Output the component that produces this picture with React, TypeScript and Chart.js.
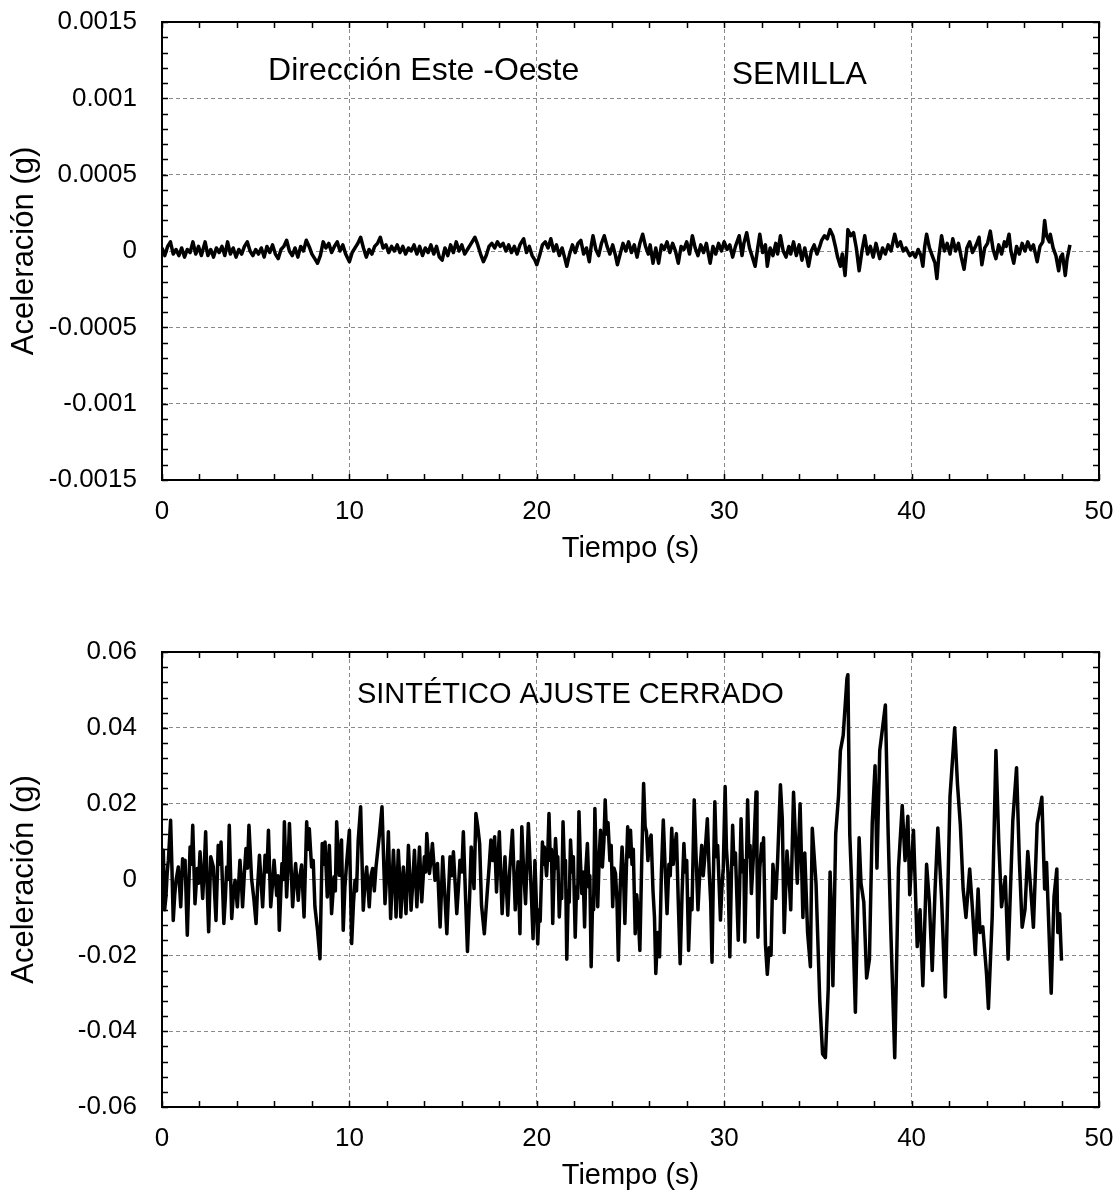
import React, { useEffect, useRef } from "react";
import { Chart, registerables } from "chart.js";
Chart.register(...registerables);

const FONT = '"Liberation Sans", Arial, Helvetica, sans-serif';

// ---- Data ----
// Top panel (SEMILLA): [time (s), acceleration in units of 1e-5 g]
const semilla_1e5g: [number, number][] = [
  [0.0, 2], [0.15, -3], [0.3, 3], [0.45, 6], [0.6, -2], [0.75, 1], [0.9, -3], [1.05, 2], [1.2, -4], [1.35, 1],
  [1.5, -1], [1.65, 6], [1.8, -2], [1.95, 3], [2.1, -3], [2.3, 6], [2.45, -3], [2.6, 1], [2.75, -4], [2.9, 2],
  [3.05, -1], [3.2, 3], [3.35, -3], [3.5, 6], [3.65, -2], [3.8, 2], [3.95, -4], [4.1, 1], [4.25, -2], [4.4, 3],
  [4.55, 6], [4.7, 0], [4.85, -3], [5.0, 1], [5.15, -2], [5.3, 2], [5.45, -4], [5.6, 3], [5.75, -1], [5.9, 4],
  [6.05, -2], [6.2, -5], [6.35, 1], [6.5, 3], [6.65, 7], [6.8, 0], [6.95, -3], [7.1, 2], [7.25, -4], [7.4, 3],
  [7.55, 0], [7.7, 7], [7.85, 3], [8.0, -2], [8.15, -5], [8.3, -8], [8.45, -3], [8.6, 6], [8.75, 2], [8.9, 5],
  [9.05, -1], [9.2, 3], [9.35, 6], [9.5, 0], [9.65, 4], [9.8, -2], [10.0, -7], [10.15, -1], [10.3, 2], [10.45, 5],
  [10.6, 9], [10.75, 2], [10.9, -4], [11.05, 1], [11.2, -2], [11.35, 3], [11.5, 5], [11.65, 9], [11.8, 2], [11.95, 4],
  [12.1, -1], [12.25, 3], [12.4, 0], [12.55, 4], [12.7, -1], [12.85, 3], [13.0, -2], [13.15, 2], [13.3, 0], [13.45, 4],
  [13.6, -2], [13.75, 3], [13.9, -3], [14.05, 2], [14.2, -1], [14.35, 4], [14.5, -2], [14.65, 3], [14.8, -4], [14.95, -6],
  [15.1, 2], [15.25, -3], [15.4, 4], [15.55, -1], [15.7, 6], [15.85, 0], [16.0, 4], [16.15, -2], [16.3, 1], [16.5, 5],
  [16.7, 9], [16.85, 4], [17.0, -2], [17.15, -7], [17.3, -3], [17.45, 3], [17.6, 5], [17.75, 2], [17.9, 6], [18.05, 3],
  [18.2, 5], [18.35, 0], [18.5, 4], [18.65, -1], [18.8, 3], [18.95, -2], [19.1, 4], [19.3, 8], [19.45, -1], [19.6, 3],
  [19.75, -3], [19.9, -6], [20.0, -9], [20.15, -3], [20.3, 4], [20.45, 6], [20.6, 2], [20.75, 8], [20.9, 0], [21.05, 4],
  [21.2, -3], [21.35, 2], [21.5, -5], [21.6, -10], [21.75, -2], [21.9, 4], [22.05, -1], [22.2, 5], [22.35, 7], [22.5, -2],
  [22.65, 2], [22.8, -7], [22.9, 3], [23.0, 10], [23.15, 1], [23.3, -3], [23.45, 5], [23.6, 10], [23.75, 3], [23.9, -2],
  [24.05, 4], [24.2, -3], [24.3, -9], [24.45, -2], [24.6, 5], [24.75, 0], [24.9, 6], [25.05, -1], [25.2, 4], [25.35, -4],
  [25.5, 5], [25.65, 11], [25.8, 3], [25.95, -2], [26.05, 4], [26.2, -8], [26.35, 2], [26.5, -8], [26.65, 4], [26.8, 1],
  [26.95, 6], [27.1, -1], [27.25, 5], [27.4, 0], [27.55, -8], [27.7, 3], [27.85, 1], [28.0, 6], [28.15, -2], [28.3, 10],
  [28.45, 2], [28.6, -3], [28.75, 4], [28.9, -1], [29.05, 5], [29.25, -8], [29.4, 3], [29.55, -2], [29.7, 5], [29.85, 0],
  [30.0, 6], [30.15, 1], [30.3, 4], [30.45, -4], [30.6, 3], [30.8, 10], [30.95, -3], [31.05, 5], [31.2, 12], [31.35, 2],
  [31.5, -4], [31.65, -10], [31.8, 3], [31.9, 11], [32.05, -1], [32.2, 4], [32.3, -10], [32.45, 2], [32.6, -3], [32.75, 5],
  [32.85, -2], [33.0, 10], [33.15, 0], [33.3, -4], [33.45, 3], [33.55, -2], [33.7, 6], [33.85, -3], [34.0, 4], [34.15, -6],
  [34.3, 2], [34.5, -10], [34.65, 0], [34.8, 4], [34.95, -2], [35.1, 3], [35.2, 7], [35.35, 10], [35.5, 8], [35.65, 14],
  [35.8, 10], [35.95, 2], [36.05, -4], [36.2, -10], [36.3, -2], [36.45, -16], [36.55, 2], [36.6, 14], [36.75, 10], [36.9, 12],
  [37.05, 2], [37.2, -13], [37.35, 0], [37.5, 10], [37.65, -2], [37.8, 3], [37.95, -4], [38.1, 5], [38.3, -5], [38.45, 2],
  [38.6, -2], [38.75, 4], [38.9, 0], [39.1, 11], [39.25, 3], [39.4, 6], [39.55, 0], [39.7, 2], [39.9, -3], [40.05, -1],
  [40.2, -4], [40.35, 1], [40.5, -3], [40.6, -10], [40.7, 3], [40.8, 11], [40.95, 2], [41.1, -3], [41.25, -8], [41.35, -18],
  [41.45, -4], [41.6, 10], [41.75, 0], [41.9, 5], [42.05, -2], [42.2, 8], [42.35, 0], [42.5, 5], [42.65, -4], [42.8, -12],
  [42.95, 2], [43.1, 6], [43.25, -1], [43.45, 4], [43.6, 9], [43.75, -9], [43.9, 2], [44.05, 5], [44.2, 13], [44.35, 1],
  [44.5, -5], [44.65, 4], [44.8, -2], [44.95, 6], [45.05, 3], [45.2, 11], [45.3, 0], [45.45, -8], [45.6, 3], [45.75, -2],
  [45.9, 5], [46.05, 0], [46.2, 6], [46.35, 1], [46.5, 4], [46.7, -7], [46.85, 3], [47.0, 6], [47.1, 20], [47.2, 10],
  [47.35, 6], [47.4, 11], [47.55, 2], [47.7, -3], [47.85, -13], [47.95, -4], [48.05, -2], [48.2, -16], [48.3, -5], [48.45, 4],
];

// Bottom panel (SINTÉTICO): [time (s), acceleration in units of 0.001 g]
const sintetico_mg: [number, number][] = [
  [0.0, 0], [0.07, 7.7], [0.14, -8], [0.21, -4.6], [0.28, 2], [0.34, 5.1], [0.46, 15.6], [0.53, 3], [0.6, -10.8], [0.68, -4],
  [0.75, -0.2], [0.87, 3.3], [0.94, -2], [1.0, -7.2], [1.1, 5.5], [1.17, 1], [1.23, 5.1], [1.35, -14.7], [1.42, -3], [1.5, 8.6],
  [1.57, 4], [1.64, 14.3], [1.76, -6.4], [1.88, 2.9], [1.95, -1], [2.03, 7.3], [2.17, -5], [2.25, 3], [2.33, 12.6], [2.41, -2],
  [2.49, -13.8], [2.6, 6], [2.74, 3.3], [2.81, -4], [2.88, -10.8], [3.0, 9], [3.08, 4], [3.15, 9.9], [3.3, -11.6], [3.38, -5],
  [3.45, 3.3], [3.52, 0], [3.59, 14.3], [3.72, -10.3], [3.82, -3], [3.9, -0.2], [4.02, -7.2], [4.16, 5.1], [4.23, 0], [4.3, -7.2],
  [4.4, 2], [4.48, 8.2], [4.56, 3], [4.64, 14.3], [4.78, 0.2], [4.9, -5], [5.02, -11.6], [5.1, -2], [5.2, 6.4], [5.37, -7.2],
  [5.5, 6.4], [5.6, 2], [5.68, 13], [5.8, -7.2], [5.9, -1], [5.98, 5.1], [6.12, -4.2], [6.19, 1], [6.26, -13.4], [6.4, 4.2],
  [6.47, 0], [6.53, 15.2], [6.65, -4.6], [6.72, 3], [6.8, 14.8], [6.97, -7.2], [7.05, -1], [7.13, 4.2], [7.27, -5.5], [7.36, 1],
  [7.45, 3.8], [7.58, -9.9], [7.72, 15.2], [7.79, 8], [7.86, 13.4], [7.98, 3.3], [8.07, 5], [8.16, -7.2], [8.3, -13.4], [8.43, -20.9],
  [8.55, 9.5], [8.62, 4], [8.7, 9.9], [8.82, -4.6], [8.93, 9], [9.05, -9], [9.18, 0.7], [9.25, -3], [9.32, 15.2], [9.46, 1.1],
  [9.58, 10.4], [9.67, -13.4], [9.76, -2], [9.85, 4.2], [10.0, 13], [10.12, -16.9], [10.22, -6], [10.3, -0.2], [10.38, -3], [10.47, 10.4],
  [10.6, 19.2], [10.74, -8.1], [10.83, -1], [10.92, 3.3], [11.06, -7.2], [11.15, 1], [11.24, 2.9], [11.33, -3], [11.42, 3.3], [11.6, 11.7],
  [11.74, 19.2], [11.9, -6.4], [12.0, 2], [12.08, 12.6], [12.2, -10.3], [12.35, 7.7], [12.42, 0], [12.49, -9.9], [12.61, 7.7], [12.68, 1],
  [12.74, -9.9], [12.88, 3.3], [12.95, -2], [13.02, -9], [13.15, 9], [13.22, 1], [13.29, -8.1], [13.38, -1], [13.47, 7.7], [13.6, -7.2],
  [13.74, 8.6], [13.86, -5.9], [14.0, 6], [14.07, 2], [14.13, 12.1], [14.27, 1.6], [14.35, 5], [14.43, 9.5], [14.57, -0.2], [14.7, 4.2],
  [14.84, -12.5], [14.98, 6], [15.08, -3], [15.2, -14.3], [15.3, -2], [15.37, 6], [15.46, 1], [15.55, 7.3], [15.73, -9], [15.82, -2],
  [15.9, 5.1], [16.0, 2], [16.08, 12.6], [16.2, -5], [16.3, -19], [16.42, -4], [16.5, 8.6], [16.65, -2.4], [16.75, 17.4], [16.85, 13.9],
  [16.95, 9.5], [17.05, -6.8], [17.2, -14.3], [17.35, -3.7], [17.45, 3], [17.55, 10.4], [17.65, 5], [17.75, 11.3], [17.85, -3.3], [18.0, 12.6],
  [18.15, -9], [18.3, 6], [18.45, -9.4], [18.55, 2], [18.7, 13], [18.85, -8], [19.0, 4.7], [19.1, -14.3], [19.2, 13.9], [19.3, 2],
  [19.4, -6.4], [19.55, 14.8], [19.7, -2.8], [19.8, -15.6], [19.9, 5], [20.05, -17], [20.12, -8], [20.18, -11], [20.3, 9.9], [20.35, 4],
  [20.4, 8.6], [20.52, 1], [20.58, 6], [20.65, 17.4], [20.72, 5], [20.78, 8], [20.85, -11.6], [20.92, 2], [21.0, 10.8], [21.08, 3],
  [21.12, 6], [21.2, -9.9], [21.27, -2], [21.33, -5], [21.4, 15.2], [21.48, 2], [21.53, 5], [21.6, -21], [21.68, -3], [21.73, -6],
  [21.8, 10.4], [21.88, 2], [21.95, 6], [22.05, -15.2], [22.12, -2], [22.18, -5], [22.25, 17.9], [22.32, 6], [22.4, -3.7], [22.47, 2],
  [22.55, -12.5], [22.62, 3], [22.7, 9.5], [22.78, -2], [22.83, 1], [22.9, -23], [22.98, -5], [23.03, -8], [23.1, 18.7], [23.17, 4],
  [23.25, -7.2], [23.33, 6], [23.4, 13], [23.5, 3.3], [23.58, 10], [23.65, 21], [23.72, 12], [23.8, 15], [23.9, 5], [23.97, 9],
  [24.05, -7.2], [24.12, 3], [24.2, 1.6], [24.28, -6], [24.35, -21.3], [24.45, -2], [24.55, 8.6], [24.62, 2], [24.7, -11.6], [24.78, 3],
  [24.85, 13.9], [24.92, 6], [25.0, 13], [25.08, 4], [25.15, 8], [25.25, -14.3], [25.33, -4], [25.4, -8], [25.5, -18.7], [25.6, 5],
  [25.7, 25.3], [25.78, 14], [25.85, 12.6], [25.93, 5], [26.0, 10], [26.1, 11.7], [26.2, -3], [26.28, -10], [26.35, -24.8], [26.45, -14],
  [26.55, -20.4], [26.65, 2], [26.75, 15.7], [26.85, 3], [26.95, -9], [27.05, 4], [27.12, 1], [27.2, 13.5], [27.28, 4], [27.35, 8],
  [27.45, 12.1], [27.55, -6], [27.65, -22.2], [27.75, -4], [27.85, 9.5], [27.92, 2], [28.0, 5], [28.1, -18.7], [28.2, -5], [28.28, -8],
  [28.4, 21], [28.5, 6], [28.6, -8], [28.7, 2], [28.8, 9], [28.88, 1], [28.95, 5], [29.1, 16], [29.2, 2], [29.28, -6],
  [29.35, -21.8], [29.42, 0], [29.5, 20.5], [29.58, 6], [29.65, 9], [29.8, -10.7], [29.88, -2], [29.95, 3], [30.05, 24.5], [30.12, 8],
  [30.2, 2], [30.3, -20.4], [30.38, 0], [30.45, 14.3], [30.52, 4], [30.6, 7], [30.75, -16], [30.82, -3], [30.9, 16], [30.98, 2],
  [31.05, 5], [31.1, -16.5], [31.18, 2], [31.25, 21], [31.32, 6], [31.38, 9], [31.45, -3.7], [31.58, 8], [31.7, 23.1], [31.75, 5],
  [31.8, -15.2], [31.9, 3], [32.0, 9.5], [32.05, 5], [32.1, 11], [32.2, -17], [32.3, -25], [32.4, -18], [32.5, -20], [32.6, 4],
  [32.75, -5], [32.85, 5], [33.0, 25], [33.1, 16], [33.2, -14], [33.35, 7.5], [33.5, -3], [33.55, -8], [33.7, 23], [33.9, -1],
  [34.05, 20], [34.2, -10], [34.3, 7], [34.45, -14], [34.6, -23], [34.65, -3], [34.7, 13.5], [34.9, -1], [35.1, -32], [35.25, -46],
  [35.4, -47], [35.55, -29], [35.65, 2], [35.75, -12], [35.8, -28], [35.95, 12], [36.1, 22], [36.2, 34], [36.35, 38], [36.55, 53],
  [36.6, 54], [36.7, 12], [36.8, -1], [37.0, -35], [37.2, 11], [37.3, -1], [37.45, -6], [37.6, -26], [37.75, -21], [37.9, 15],
  [38.05, 30], [38.15, 3], [38.3, 34], [38.4, 38], [38.6, 46], [38.75, 12], [38.9, -15], [39.1, -47], [39.3, 3], [39.5, 19.5],
  [39.65, 5], [39.8, 16.7], [39.9, -4], [40.1, 13], [40.3, -17.7], [40.45, -8], [40.6, -28], [40.8, 4], [40.95, -6], [41.1, -24],
  [41.25, -3], [41.4, 13.6], [41.6, -5], [41.8, -31], [42.05, 22], [42.3, 40], [42.45, 25], [42.6, 14.5], [42.75, -2.5], [42.9, -10],
  [43.1, 2.8], [43.25, -8], [43.4, -19.8], [43.55, -2.5], [43.65, -14], [43.8, -12.5], [44.0, -25], [44.1, -34], [44.3, -10], [44.5, 34],
  [44.65, 10], [44.8, -7.2], [45.0, 0.7], [45.15, -21], [45.4, 15.5], [45.6, 29.5], [45.75, 5], [45.9, -12.6], [46.05, -8], [46.2, 7.4],
  [46.35, -2], [46.5, -12.6], [46.7, 14.7], [46.95, 21.7], [47.1, -2.5], [47.2, 4.5], [47.45, -30], [47.6, -4.5], [47.75, 2.8], [47.8, -14],
  [47.9, -9], [48.0, -21.4],
];

const semillaScale = 1e-5; // values above are in 1e-5 g
const sinteticoScale = 1e-3; // values above are in 0.001 g

const xTickStep = 10;
const xMinorStep = 2;
const topYMin = -0.0015, topYMax = 0.0015, topYStep = 0.0005, topYMinor = 0.0001;
const botYMin = -0.06, botYMax = 0.06, botYStep = 0.02, botYMinor = 0.004;

const xTitle = "Tiempo (s)";
const yTitle = "Aceleración (g)";

const fmt = (v: number) => {
  if (Math.abs(v) < 1e-12) return "0";
  return String(Number(v.toFixed(6)));
};

const framePlugin = {
  id: "frameTicks",
  afterDraw(chart: any, _args: any, opts: any) {
    const { ctx, chartArea: a, scales } = chart;
    const xs = scales.x, ys = scales.y;
    ctx.save();
    ctx.strokeStyle = "#000";
    ctx.lineWidth = 1.5;
    const tl = 6;
    const nx = Math.round((xs.max - xs.min) / opts.xMinor);
    for (let i = 0; i <= nx; i++) {
      const px = Math.round(xs.getPixelForValue(xs.min + i * opts.xMinor)) + 0.5;
      ctx.beginPath();
      ctx.moveTo(px, a.bottom);
      ctx.lineTo(px, a.bottom - tl);
      ctx.moveTo(px, a.top);
      ctx.lineTo(px, a.top + tl);
      ctx.stroke();
    }
    const ny = Math.round((ys.max - ys.min) / opts.yMinor);
    for (let i = 0; i <= ny; i++) {
      const py = Math.round(ys.getPixelForValue(ys.min + i * opts.yMinor)) + 0.5;
      ctx.beginPath();
      ctx.moveTo(a.left, py);
      ctx.lineTo(a.left + tl, py);
      ctx.moveTo(a.right, py);
      ctx.lineTo(a.right - tl, py);
      ctx.stroke();
    }
    ctx.lineWidth = 2;
    ctx.strokeRect(a.left, a.top, a.right - a.left, a.bottom - a.top);
    ctx.fillStyle = "#000";
    ctx.textAlign = "left";
    ctx.textBaseline = "middle";
    for (const t of opts.texts || []) {
      ctx.font = `${t.size}px ${FONT}`;
      ctx.fillText(t.text, xs.getPixelForValue(t.x), ys.getPixelForValue(t.y));
    }
    ctx.restore();
  },
};

const zeroPad = (s: any) => {
  s.paddingTop = 0;
  s.paddingBottom = 0;
  s.paddingLeft = 0;
  s.paddingRight = 0;
};

function makeConfig(
  pts: [number, number][],
  scale: number,
  yMin: number,
  yMax: number,
  yStep: number,
  yMinor: number,
  padTop: number,
  texts: { text: string; x: number; y: number; size: number }[]
): any {
  const gridColor = (ctx: any) => {
    const v = ctx.tick ? ctx.tick.value : 0;
    const s = ctx.scale;
    if (Math.abs(v - s.min) < 1e-9 || Math.abs(v - s.max) < 1e-9) return "rgba(0,0,0,0)";
    return "#8a8a8a";
  };
  return {
    type: "line",
    data: {
      datasets: [
        {
          data: pts.map(([t, v]) => ({ x: t, y: v * scale })),
          borderColor: "#000",
          borderWidth: 3.5,
          pointRadius: 0,
          tension: 0,
          fill: false,
          borderJoinStyle: "round",
        },
      ],
    },
    options: {
      responsive: false,
      animation: false,
      devicePixelRatio: 1,
      layout: { padding: { top: padTop, right: 21, left: 0, bottom: 0 } },
      plugins: {
        legend: { display: false },
        tooltip: { enabled: false },
        frameTicks: { xMinor: xMinorStep, yMinor, texts },
      },
      scales: {
        x: {
          type: "linear",
          min: 0,
          max: 50,
          afterFit: (s: any) => {
            s.height = 110;
            zeroPad(s);
          },
          ticks: {
            stepSize: xTickStep,
            color: "#000",
            font: { size: 26, family: FONT },
            padding: 16,
            maxRotation: 0,
            callback: (v: any) => fmt(Number(v)),
          },
          grid: { color: gridColor, lineWidth: 1, drawTicks: false },
          border: { display: false, dash: [4, 3] },
          title: {
            display: true,
            text: xTitle,
            color: "#000",
            font: { size: 29, family: FONT },
            padding: { top: 0, bottom: 24 },
          },
        },
        y: {
          type: "linear",
          min: yMin,
          max: yMax,
          afterFit: (s: any) => {
            s.width = 162;
            zeroPad(s);
          },
          ticks: {
            stepSize: yStep,
            color: "#000",
            font: { size: 26, family: FONT },
            padding: 25,
            callback: (v: any) => fmt(Number(v)),
          },
          grid: { color: gridColor, lineWidth: 1, drawTicks: false },
          border: { display: false, dash: [4, 3] },
          title: {
            display: true,
            text: yTitle,
            color: "#000",
            font: { size: 31, family: FONT },
            padding: { top: 6, bottom: 0 },
          },
        },
      },
    },
    plugins: [framePlugin],
  };
}

export default function App() {
  const topRef = useRef<HTMLCanvasElement>(null);
  const botRef = useRef<HTMLCanvasElement>(null);

  useEffect(() => {
    const c1 = new Chart(
      topRef.current as HTMLCanvasElement,
      makeConfig(semilla_1e5g, semillaScale, topYMin, topYMax, topYStep, topYMinor, 22, [
        { text: "Dirección Este -Oeste", x: 5.66, y: 0.00118, size: 32 },
        { text: "SEMILLA", x: 30.4, y: 0.00115, size: 32 },
      ])
    );
    const c2 = new Chart(
      botRef.current as HTMLCanvasElement,
      makeConfig(sintetico_mg, sinteticoScale, botYMin, botYMax, botYStep, botYMinor, 62, [
        { text: "SINTÉTICO AJUSTE CERRADO", x: 10.4, y: 0.0487, size: 29 },
      ])
    );
    return () => {
      c1.destroy();
      c2.destroy();
    };
  }, []);

  return (
    <div
      style={{
        position: "absolute",
        left: 0,
        top: 0,
        width: 1120,
        height: 1197,
        overflow: "hidden",
        background: "#fff",
      }}
    >
      <canvas ref={topRef} width={1120} height={590} style={{ position: "absolute", left: 0, top: 0, width: 1120, height: 590 }} />
      <canvas ref={botRef} width={1120} height={627} style={{ position: "absolute", left: 0, top: 590, width: 1120, height: 627 }} />
    </div>
  );
}
